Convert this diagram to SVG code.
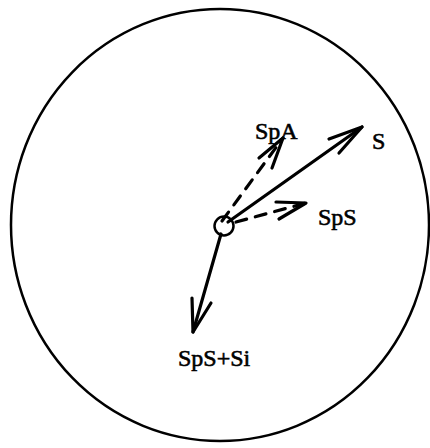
<svg xmlns="http://www.w3.org/2000/svg" width="430" height="448" viewBox="0 0 430 448">
<style>
.ln{stroke:#000;stroke-width:3.2;fill:none;stroke-linecap:round;stroke-linejoin:round}
.dash{stroke-dasharray:11 9}
.lbl{font-family:"Liberation Serif","Times New Roman",serif;font-size:24px;fill:#000;stroke:#000;stroke-width:0.6}
</style>
<rect width="430" height="448" fill="#fff"/>
<g id="outer"><ellipse cx="220" cy="225" rx="209" ry="216" fill="none" stroke="#000" stroke-width="2.5"/></g>
<g id="origin"><circle cx="224" cy="226" r="9.5" fill="none" stroke="#000" stroke-width="2.5"/></g>
<g id="connectors">
<path class="ln" d="M228,222 L362,127"/>
<path class="ln" d="M329,139 L362,127 L339,153"/>
<path class="ln dash" d="M222,221 L283,138"/>
<path class="ln" d="M259,158 L283,138 L272,168"/>
<path class="ln dash" d="M236,222 L306,203"/>
<path class="ln" d="M276,202 L306,203 L279,219"/>
<path class="ln" d="M221,234 L193,332"/>
<path class="ln" d="M192,298 L193,332 L211,303"/>
</g>
<g id="label-S"><text class="lbl" x="372" y="149">S</text></g>
<g id="label-SpA"><text class="lbl" x="255" y="139">SpA</text></g>
<g id="label-SpS"><text class="lbl" x="318" y="225">SpS</text></g>
<g id="label-SpSSi"><text class="lbl" x="178" y="366">SpS+Si</text></g>
</svg>
